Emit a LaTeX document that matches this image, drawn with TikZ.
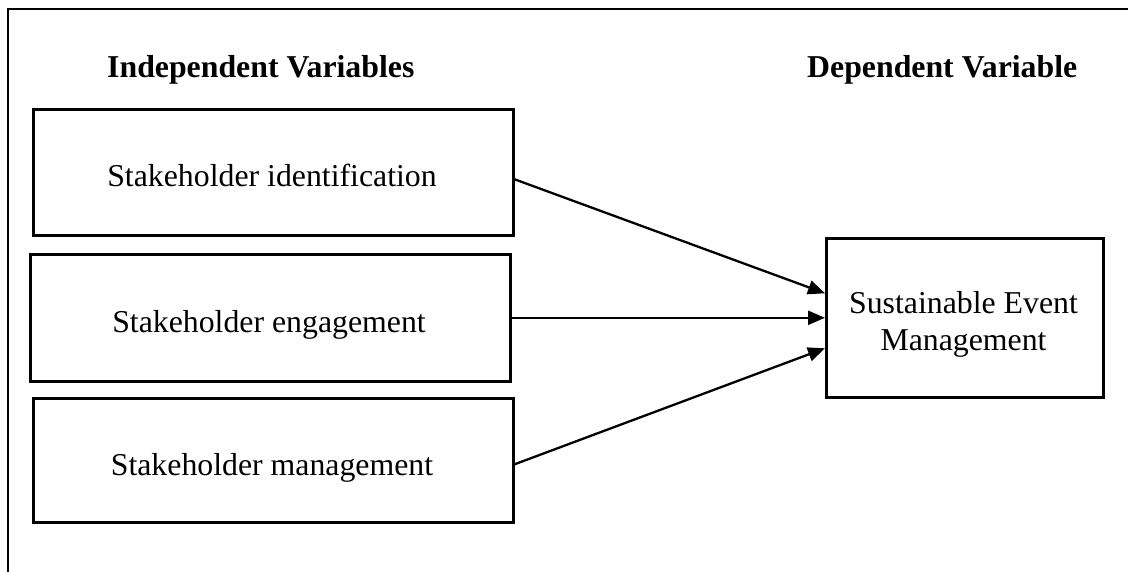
\documentclass[tikz,border=0pt]{standalone}
\usepackage{fontspec}
\setmainfont{Liberation Serif}
\usetikzlibrary{arrows.meta,calc}
\begin{document}
\begin{tikzpicture}[x=1pt,y=-1pt,
  box/.style={draw,line width=2.6pt,inner sep=0pt,anchor=north west},
  lbl/.style={inner sep=0pt,anchor=base,font=\fontsize{31.8}{37}\selectfont},
  head/.style={inner sep=0pt,anchor=base west,font=\fontsize{31.8}{37}\selectfont\bfseries},
  arr/.style={line width=2.3pt,-{Triangle[length=17pt,width=14pt]}},
  frame/.style={line width=1.8pt}]
\useasboundingbox (0,0) rectangle (1128,572);
\coordinate (fb) at (8,572);
\coordinate (fc) at (8,9);
\coordinate (fr) at (1128,9);
\draw[frame] (fb) -- (fc) -- (fr);
\node[head] (h1) at (107,78) {Independent Variables};
\node[head] (h2) at (807,78) {Dependent Variable};
\node[box,minimum width=480pt,minimum height=126pt] (b1) at (32,108) {};
\node[box,minimum width=480pt,minimum height=127pt] (b2) at (29,253) {};
\node[box,minimum width=480pt,minimum height=124pt] (b3) at (32,397) {};
\node[box,minimum width=277pt,minimum height=159pt] (t) at (825,237) {};
\node[lbl] (l1) at (272,187) {Stakeholder identification};
\node[lbl] (l2) at (269,332) {Stakeholder engagement};
\node[lbl] (l3) at (272,475) {Stakeholder management};
\node[lbl] (t1) at (963.5,313) {Sustainable Event};
\node[lbl] (t2) at (963.5,350) {Management};
\draw[arr] ($(b1.east)+(0,7)$) -- ($(t.west)+(0,-24.5)$);
\draw[arr] (b2.east) -- (t.west |- b2.east);
\draw[arr] ($(b3.east)+(0,4)$) -- ($(t.west)+(0,30.5)$);
\end{tikzpicture}
\end{document}
